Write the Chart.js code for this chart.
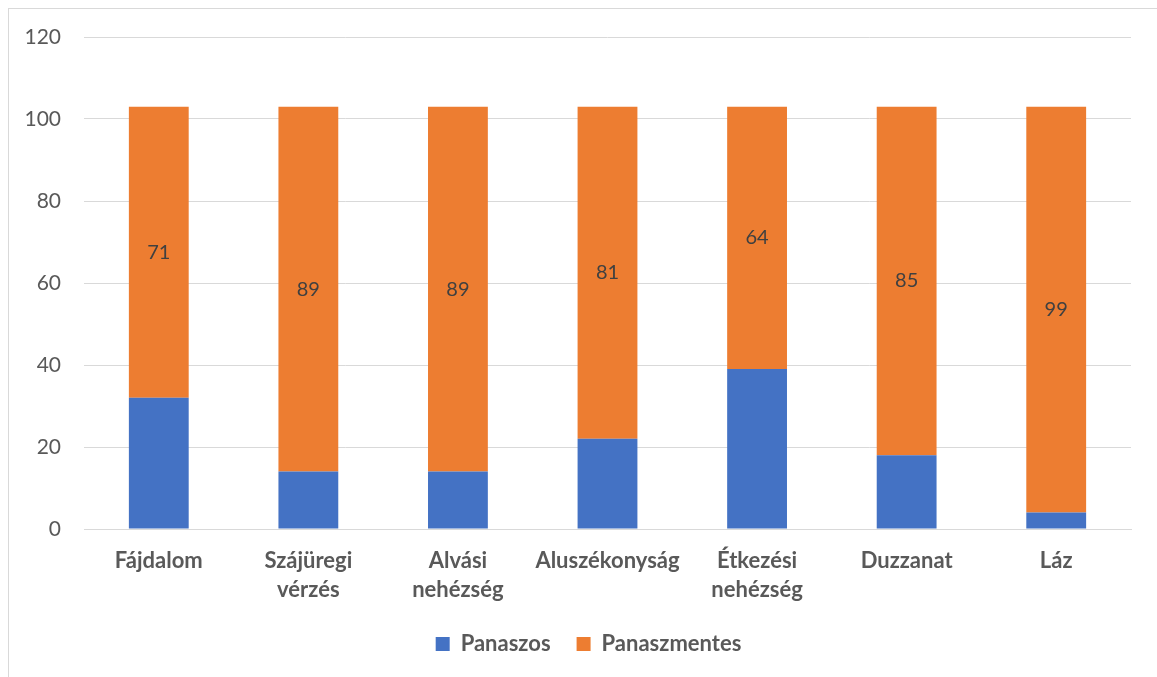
<!DOCTYPE html>
<html>
<head>
<meta charset="utf-8">
<script src="https://cdn.jsdelivr.net/npm/chart.js@4"></script>
<style>
  html, body { margin: 0; padding: 0; background: #fff; overflow: hidden; }
  .frame { position: absolute; left: 8px; top: 8px; width: 1160px; height: 680px; border: 1px solid #d9d9d9; }
  .wrap { position: absolute; left: 0; top: 0; width: 1157px; height: 677px; }
</style>
</head>
<body>
<div class="frame"></div>
<div class="wrap"><canvas id="myChart" width="1157" height="677"></canvas></div>
<script>
const categories = ['Fájdalom', ['Szájüregi', 'vérzés'], ['Alvási', 'nehézség'], 'Aluszékonyság', ['Étkezési', 'nehézség'], 'Duzzanat', 'Láz'];
const panaszos = [32, 14, 14, 22, 39, 18, 4];
const panaszmentes = [71, 89, 89, 81, 64, 85, 99];
const yTicks = [0, 20, 40, 60, 80, 100, 120];

const FONT = 'Lato, "Open Sans", sans-serif';

// writes each value in the middle of the orange segments
const barLabels = {
  id: 'barLabels',
  afterDatasetsDraw(chart) {
    const ctx = chart.ctx;
    const meta = chart.getDatasetMeta(1);
    ctx.save();
    ctx.font = '20px ' + FONT;
    ctx.fillStyle = '#404040';
    ctx.textAlign = 'center';
    ctx.textBaseline = 'middle';
    meta.data.forEach((bar, i) => {
      const p = bar.getProps(['x', 'y', 'base'], true);
      ctx.fillText(panaszmentes[i], p.x, (p.y + p.base) / 2);
    });
    ctx.restore();
  }
};

// centre the legend under the plot area rather than the whole canvas
const legendShift = {
  id: 'legendShift',
  afterLayout(chart) {
    const lg = chart.legend;
    if (!lg) return;
    const dx = Math.round((chart.chartArea.left + chart.chartArea.right - lg.left - lg.right) / 2) - 19;
    lg.left += dx;
    lg.right += dx;
  }
};

var ctx = document.getElementById('myChart').getContext('2d');
var myChart = new Chart(ctx, {
  type: 'bar',
  data: {
    labels: categories,
    datasets: [{
      label: 'Panaszos',
      data: panaszos,
      backgroundColor: '#4472C4',
    }, {
      label: 'Panaszmentes',
      data: panaszmentes,
      backgroundColor: '#ED7D31',
    }]
  },
  options: {
    responsive: false,
    animation: false,
    events: [],
    layout: { padding: { top: 37, right: 26, left: 0, bottom: 12 } },
    datasets: { bar: { barPercentage: 0.4, categoryPercentage: 1 } },
    scales: {
      x: {
        stacked: true,
        grid: { display: false },
        border: { color: '#d9d9d9', width: 1 },
        ticks: { color: '#595959', font: { family: FONT, size: 22, weight: 'bold', lineHeight: 1.32 }, padding: 9, maxRotation: 0, autoSkip: false },
        afterFit: s => { s.height = 78; }
      },
      y: {
        stacked: true,
        min: 0,
        max: 120,
        afterBuildTicks: s => { s.ticks = yTicks.map(v => ({ value: v })); },
        grid: { color: '#d9d9d9', lineWidth: 1, drawTicks: false },
        border: { display: false },
        ticks: { color: '#595959', font: { family: FONT, size: 21 }, padding: 23 },
        afterFit: s => { s.width = 84; }
      }
    },
    plugins: {
      legend: {
        position: 'bottom',
        labels: { boxWidth: 14, boxHeight: 14, padding: 26, color: '#595959', font: { family: FONT, size: 22, weight: 'bold' } }
      },
      tooltip: { enabled: false }
    }
  },
  plugins: [barLabels, legendShift]
});
</script>
</body>
</html>
